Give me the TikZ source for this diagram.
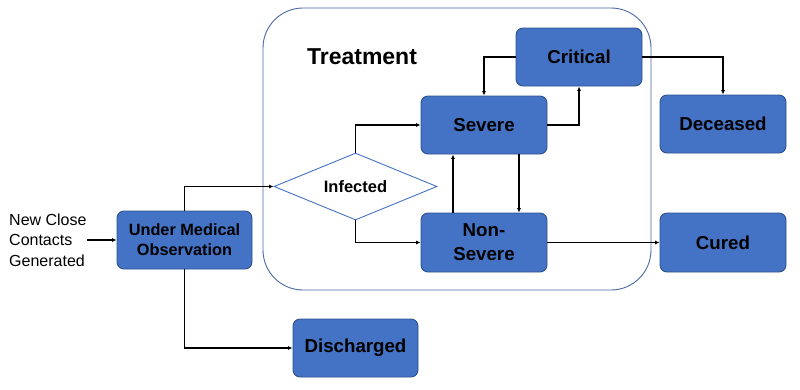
\documentclass[tikz,border=0pt]{standalone}
\usepackage{fontspec}
\setmainfont{Liberation Sans}
\usetikzlibrary{shapes.geometric,arrows.meta}
\definecolor{boxfill}{HTML}{4472C4}
\definecolor{boxline}{HTML}{2F528F}
\definecolor{frameline}{HTML}{4A69A6}
\begin{document}
\begin{tikzpicture}[x=1pt,y=-1pt,
  stbox/.style={draw=boxline,fill=boxfill,line width=0.9pt,rounded corners=7pt,
    inner sep=0pt,align=center,text=black,font=\bfseries\fontsize{18.7}{24}\selectfont},
  arr/.style={-{Latex[length=4.5pt,width=4pt]},line width=1.1pt,black}]
\useasboundingbox (0,0) rectangle (800,389);
% treatment frame
\node[draw=frameline,line width=0.9pt,rounded corners=40pt,minimum width=388pt,minimum height=282pt,inner sep=0pt] (treat) at (457,149) {};
\node[font=\bfseries\fontsize{23}{27}\selectfont,inner sep=0pt] (tlab) at (362,57) {Treatment};
% nodes
\node[inner sep=0pt,align=left,anchor=west,font=\fontsize{16}{20.5}\selectfont] (txt) at (9,240) {New Close\\Contacts\\Generated};
\node[stbox,minimum width=135pt,minimum height=58pt,font=\bfseries\fontsize{16.3}{20}\selectfont] (umo) at (184.5,240) {Under Medical\\Observation};
\node[stbox,minimum width=125pt,minimum height=58pt] (dis) at (355.5,348) {Discharged};
\node[draw=boxfill,line width=0.9pt,shape=diamond,shape aspect=2.43,fill=white,inner sep=0pt,minimum width=163pt,minimum height=67pt,font=\bfseries\fontsize{16.5}{20}\selectfont] (inf) at (355.5,186.5) {Infected};
\node[stbox,minimum width=126pt,minimum height=58pt] (sev) at (484,125) {Severe};
\node[stbox,minimum width=126pt,minimum height=59pt] (non) at (484,242.5) {Non-\\Severe};
\node[stbox,minimum width=126pt,minimum height=58pt] (crit) at (579,57) {Critical};
\node[stbox,minimum width=126pt,minimum height=58pt] (dec) at (723,124) {Deceased};
\node[stbox,minimum width=126pt,minimum height=59pt] (cur) at (723,242.5) {Cured};
% connectors
\draw[arr] (txt.east) -- (umo.west);
\draw[arr] (umo.north) |- (inf.west);
\draw[arr] (umo.south) |- (dis.west);
\draw[arr] (inf.north) |- (sev.west);
\draw[arr] (inf.south) |- (non.west);
\draw[arr] (crit.west) -| (sev.north);
\draw[arr] (sev.east) -| (crit.south);
\draw[arr] (crit.east) -| (dec.north);
\draw[arr] ([xshift=-31pt]non.north) -- ([xshift=-31pt]sev.south);
\draw[arr] ([xshift=35pt]sev.south) -- ([xshift=35pt]non.north);
\draw[arr] (non.east) -- (cur.west);
\end{tikzpicture}
\end{document}
